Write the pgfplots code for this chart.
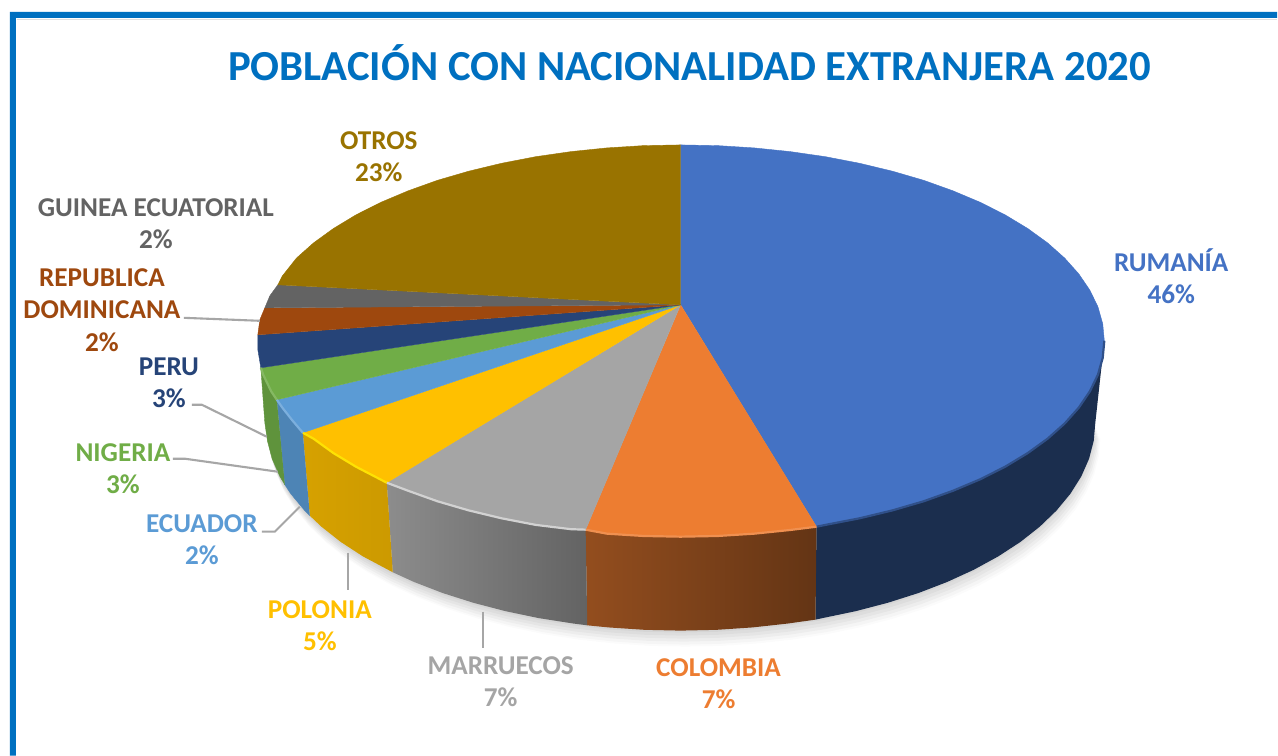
\documentclass[border=0pt]{standalone}
\usepackage{fontspec}
\setmainfont{Carlito}
\usepackage{pgfplots}
\usepackage{pgfplotstable}
\pgfplotsset{compat=1.18}

\definecolor{rum}{HTML}{4472C4}
\definecolor{col}{HTML}{ED7D31}
\definecolor{mar}{HTML}{A5A5A5}
\definecolor{pol}{HTML}{FFC000}
\definecolor{ecu}{HTML}{5B9BD5}
\definecolor{nig}{HTML}{70AD47}
\definecolor{per}{HTML}{264478}
\definecolor{rep}{HTML}{9E480E}
\definecolor{gui}{HTML}{636363}
\definecolor{otr}{HTML}{997300}
\definecolor{leader}{HTML}{A6A6A6}
\definecolor{frame}{HTML}{0070C0}

\tikzset{
    lab/.style={font=\fontsize{13.6}{16}\selectfont\bfseries, anchor=base, inner sep=0pt},
    wedge/.style={fill=#1, draw=#1, line width=0.2pt},
    rim/.style={draw=#1, line width=1.1pt, line join=round},
    lead/.style={draw=leader, line width=1.05pt},
}

% lower half of the base, used for the soft shadow
\pgfplotstableread{
x y
1096 423
1094.4 441.1
1089.7 459.1
1081.9 476.8
1071 494.1
1057.1 510.9
1040.4 527
1021 542.3
998.9 556.7
974.4 570.1
947.8 582.3
919 593.4
888.5 603.1
856.4 611.5
822.9 618.5
788.4 623.9
753.1 627.8
717.2 630.2
681 631
644.8 630.2
608.9 627.8
573.6 623.9
539.1 618.5
505.6 611.5
473.5 603.1
443 593.4
414.2 582.3
387.6 570.1
363.1 556.7
341 542.3
321.6 527
304.9 510.9
291 494.1
280.1 476.8
272.3 459.1
267.6 441.1
266 423
681 340
}\basehalf

\begin{document}
\begin{tikzpicture}
\begin{axis}[
    scale only axis,
    width=639pt, height=378pt,
    xmin=0, xmax=1278, ymin=0, ymax=756,
    y dir=reverse,
    hide axis,
    clip=false,
    every axis plot/.append style={no markers, forget plot},
]
% page and frame
\addplot[fill=white, draw=none] coordinates {(0,0) (1278,0) (1278,756) (0,756)};
\addplot[fill=frame, draw=none] coordinates {(10,12) (1278,12) (1278,18) (16,18) (16,756) (10,756)};
\addplot[draw=black!12, line width=0.8pt] coordinates {(17,19.5) (1278,19.5)};

% shadow
\addplot[fill=black, opacity=0.03, draw=none, yshift=-1pt] table {\basehalf};
\addplot[fill=black, opacity=0.03, draw=none, yshift=-2.5pt, xshift=0.5pt] table {\basehalf};
\addplot[fill=black, opacity=0.03, draw=none, yshift=-4pt, xshift=1pt] table {\basehalf};
\addplot[fill=black, opacity=0.03, draw=none, yshift=-5.5pt, xshift=1.5pt] table {\basehalf};
\addplot[fill=black, opacity=0.025, draw=none, yshift=-7pt, xshift=2pt] table {\basehalf};
\addplot[fill=black, opacity=0.015, draw=none, yshift=-8pt, xshift=2.5pt] table {\basehalf};

% side walls
\addplot[fill=rum!40!black, draw=none] coordinates {
 (1105,341) (1103.4,358.1) (1098.6,375) (1090.5,391.7) (1079.4,408) (1065.3,423.8) (1048.2,439) (1028.3,453.4) (1005.8,467) (980.8,479.6) (953.5,491.1) (924.2,501.6) (893,510.7) (860.2,518.6) (826,525.2) (817,527)
 (816,620) (822.9,618.5) (856.4,611.5) (888.5,603.1) (919,593.4) (947.8,582.3) (974.4,570.1) (998.9,556.7) (1021,542.3) (1040.4,527) (1057.1,510.9) (1071,494.1) (1081.9,476.8) (1089.7,459.1) (1094.4,441.1) (1096,423)};
\addplot[shade, left color=col!62!black, right color=col!42!black, draw=none] coordinates {
 (817,527) (790.7,530.3) (754.6,534) (718,536.3) (681,537) (644,536.3) (607.4,534) (586,530)
 (587.6,625.7) (608.9,627.8) (644.8,630.2) (681,631) (717.2,630.2) (753.1,627.8) (788.4,623.9) (816,620)};
\addplot[shade, left color=mar!85!black, right color=mar!60!black, draw=none] coordinates {
 (586,530) (571.3,529.5) (536,525.2) (501.8,518.6) (469,510.7) (437.8,501.6) (408.5,491.1) (387,483)
 (393,572.6) (414.2,582.3) (443,593.4) (473.5,603.1) (505.6,611.5) (539.1,618.5) (573.6,623.9) (587.6,625.7)};
\addplot[shade, left color=pol!84!black, right color=pol!80!black, draw=none] coordinates {
 (387,483) (356.2,467) (333.7,453.4) (313.8,439) (303,433)
 (310,516) (321.6,527) (341,542.3) (363.1,556.7) (393,572.6)};
\addplot[wedge=ecu!85!black] coordinates {
 (303,433) (292,420) (282.6,408) (277,400) (285,485) (291,494.1) (304.9,510.9) (310,516)};
\addplot[wedge=nig!85!black] coordinates {
 (277,400) (271.4,391.7) (263.4,375) (261,368) (265,423) (267.6,441.1) (272.3,459.1) (280.1,476.8) (285,485)};

% top
\addplot[wedge=rum] coordinates {(681,305) (681,145) (718,145.7) (754.6,148) (790.7,151.7) (826,156.8) (860.2,163.4) (893,171.3) (924.2,180.4) (953.5,190.9) (980.8,202.4) (1005.8,215) (1028.3,228.6) (1048.2,243) (1065.3,258.2) (1079.4,274) (1090.5,290.3) (1098.6,307) (1103.4,323.9) (1105,341) (1103.4,358.1) (1098.6,375) (1090.5,391.7) (1079.4,408) (1065.3,423.8) (1048.2,439) (1028.3,453.4) (1005.8,467) (980.8,479.6) (953.5,491.1) (924.2,501.6) (893,510.7) (860.2,518.6) (826,525.2) (817,527)};
\addplot[wedge=col] coordinates {(681,305) (817,527) (790.7,530.3) (754.6,534) (718,536.3) (681,537) (644,536.3) (607.4,534) (586,530)};
\addplot[wedge=mar] coordinates {(681,305) (586,530) (571.3,529.5) (536,525.2) (501.8,518.6) (469,510.7) (437.8,501.6) (408.5,491.1) (387,483)};
\addplot[wedge=pol] coordinates {(681,305) (387,483) (356.2,467) (333.7,453.4) (313.8,439) (303,433)};
\addplot[wedge=ecu] coordinates {(681,305) (303,433) (292,420) (282.6,408) (277,400)};
\addplot[wedge=nig] coordinates {(681,305) (277,400) (271.4,391.7) (263.4,375) (261,368)};
\addplot[wedge=per] coordinates {(681,305) (261,368) (258,350) (258,335)};
\addplot[wedge=rep] coordinates {(681,305) (258,335) (260,320) (265,308)};
\addplot[wedge=gui] coordinates {(681,305) (265,308) (270,296) (278,285)};
\addplot[wedge=otr] coordinates {(681,305) (278,285) (282.6,276) (296.7,258.2) (313.8,243) (333.7,228.6) (356.2,215) (381.2,202.4) (408.5,190.9) (437.8,180.4) (469,171.3) (501.8,163.4) (536,156.8) (571.3,151.7) (607.4,148) (644,145.7) (681,145)};

% bevel along the rim
\addplot[rim=rum!70!black] coordinates {(1105,341) (1103.4,358.1) (1098.6,375) (1090.5,391.7) (1079.4,408) (1065.3,423.8) (1048.2,439) (1028.3,453.4) (1005.8,467) (980.8,479.6) (953.5,491.1) (924.2,501.6) (893,510.7) (860.2,518.6) (826,525.2) (817,527)};
\addplot[rim=col!85!white] coordinates {(817,527) (790.7,530.3) (754.6,534) (718,536.3) (681,537) (644,536.3) (607.4,534) (586,530)};
\addplot[rim=mar!50!white] coordinates {(586,530) (571.3,529.5) (536,525.2) (501.8,518.6) (469,510.7) (437.8,501.6) (408.5,491.1) (387,483)};
\addplot[rim=yellow!70!pol] coordinates {(387,483) (356.2,467) (333.7,453.4) (313.8,439) (303,433)};
\addplot[rim=ecu!80!white] coordinates {(303,433) (292,420) (282.6,408) (277,400)};
\addplot[rim=nig!85!white] coordinates {(277,400) (271.4,391.7) (263.4,375) (261,368)};

% leader lines
\addplot[lead] coordinates {(184,318) (260,321)};
\addplot[lead] coordinates {(192,405) (202,405) (267,437)};
\addplot[lead] coordinates {(173,459) (185,459) (278,472)};
\addplot[lead] coordinates {(262,532) (275,532) (300,507)};
\addplot[lead] coordinates {(348,553) (348,590)};
\addplot[lead] coordinates {(483,612) (483,648)};

% texts
\node[font=\fontsize{21.4}{26}\selectfont\bfseries, anchor=base, text=frame, inner sep=0pt] at (axis cs:690,81) {POBLACIÓN CON NACIONALIDAD EXTRANJERA 2020};
\node[lab, text=otr] at (axis cs:379,150) {OTROS};
\node[lab, text=otr] at (axis cs:379,182) {23\%};
\node[lab, text=gui] at (axis cs:156,217) {GUINEA ECUATORIAL};
\node[lab, text=gui] at (axis cs:156,249) {2\%};
\node[lab, text=rep] at (axis cs:102,287) {REPUBLICA};
\node[lab, text=rep] at (axis cs:102,319) {DOMINICANA};
\node[lab, text=rep] at (axis cs:102,352) {2\%};
\node[lab, text=per] at (axis cs:169,376) {PERU};
\node[lab, text=per] at (axis cs:169,408) {3\%};
\node[lab, text=nig] at (axis cs:123,462) {NIGERIA};
\node[lab, text=nig] at (axis cs:123,494) {3\%};
\node[lab, text=ecu] at (axis cs:202,533) {ECUADOR};
\node[lab, text=ecu] at (axis cs:202,565) {2\%};
\node[lab, text=pol] at (axis cs:320,619) {POLONIA};
\node[lab, text=pol] at (axis cs:320,651) {5\%};
\node[lab, text=mar] at (axis cs:501,675) {MARRUECOS};
\node[lab, text=mar] at (axis cs:501,707) {7\%};
\node[lab, text=col] at (axis cs:719,677) {COLOMBIA};
\node[lab, text=col] at (axis cs:719,709) {7\%};
\node[lab, text=rum] at (axis cs:1172,272) {RUMANÍA};
\node[lab, text=rum] at (axis cs:1172,304) {46\%};
\end{axis}
\end{tikzpicture}
\end{document}
